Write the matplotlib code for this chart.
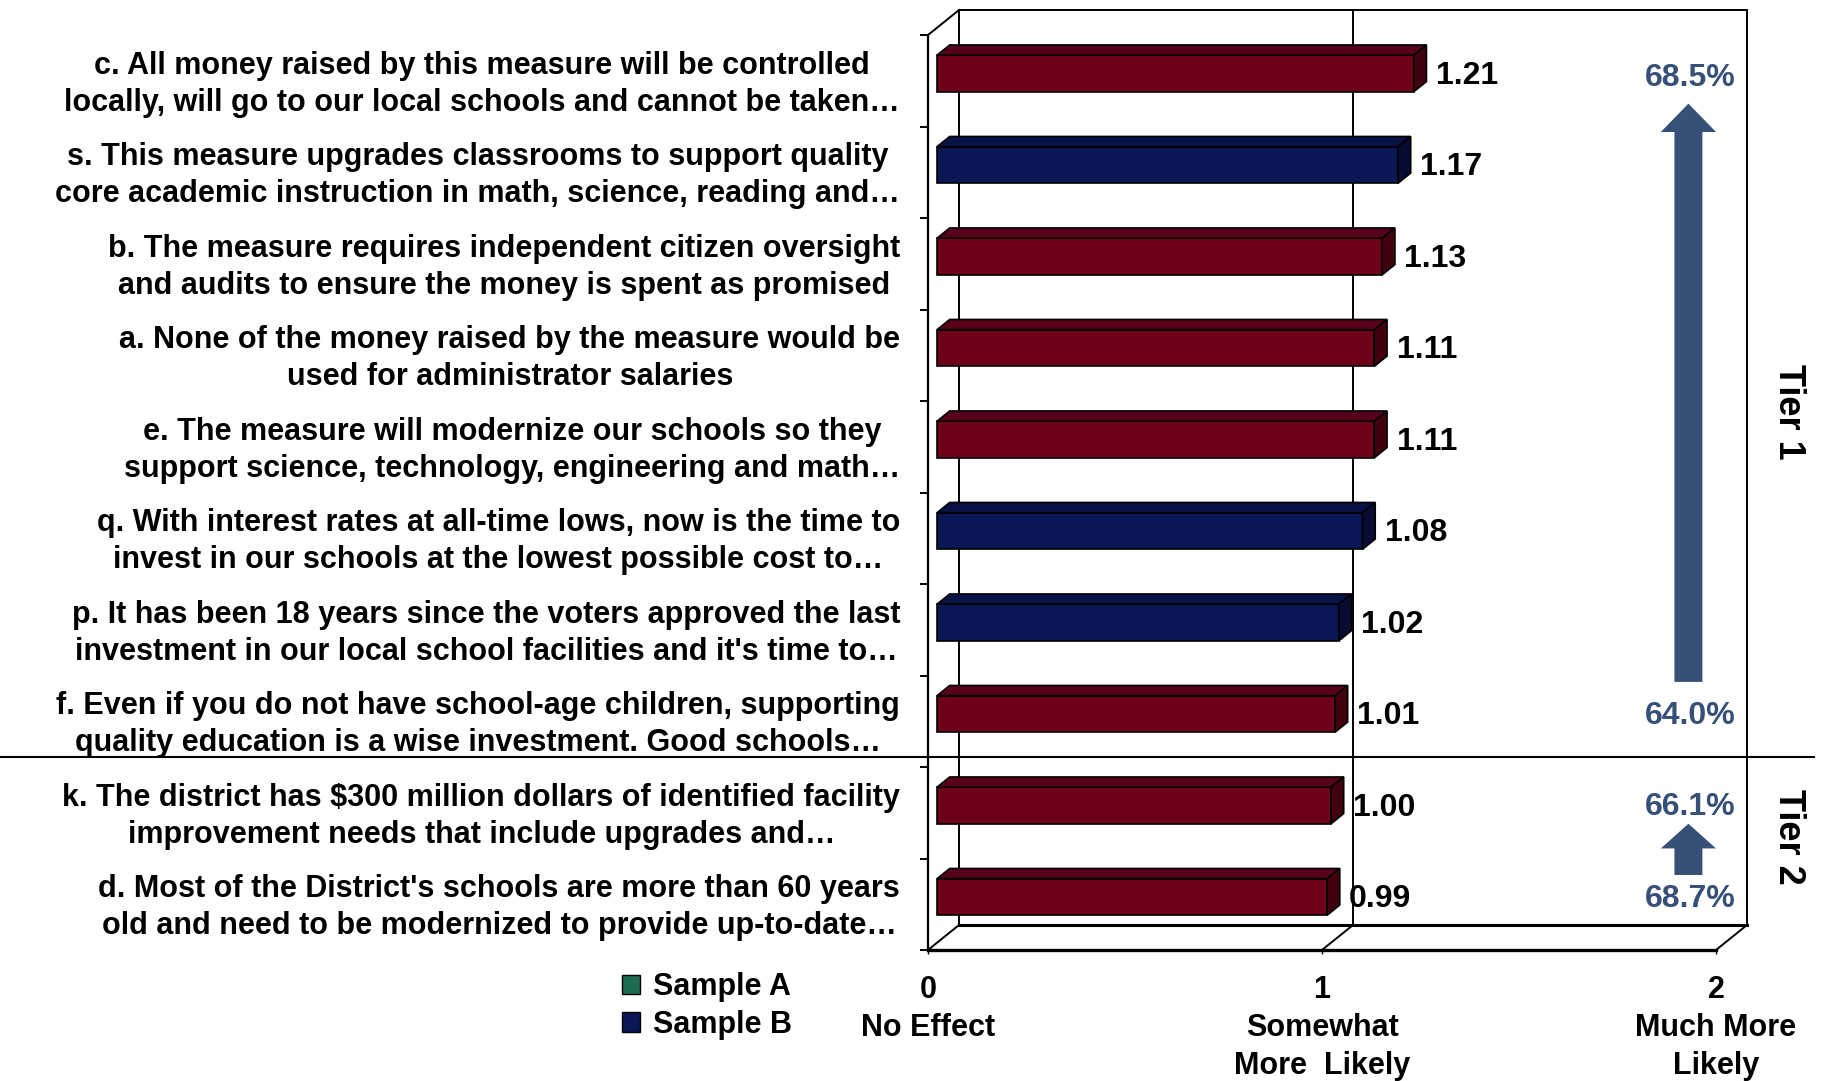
import matplotlib
matplotlib.use('Agg')
import matplotlib.pyplot as plt
import matplotlib.transforms as mtransforms
from matplotlib.patches import Polygon, Patch, FancyArrow
from matplotlib.lines import Line2D
import numpy as np

plt.rcParams['font.family'] = ['Liberation Sans', 'DejaVu Sans']
plt.rcParams['font.weight'] = 'bold'

# data (top to bottom)
statements = [
    "c. All money raised by this measure will be controlled\nlocally, will go to our local schools and cannot be taken\u2026",
    "s. This measure upgrades classrooms to support quality\ncore academic instruction in math, science, reading and\u2026",
    "b. The measure requires independent citizen oversight\nand audits to ensure the money is spent as promised",
    "a. None of the money raised by the measure would be\nused for administrator salaries",
    "e. The measure will modernize our schools so they\nsupport science, technology, engineering and math\u2026",
    "q. With interest rates at all-time lows, now is the time to\ninvest in our schools at the lowest possible cost to\u2026",
    "p. It has been 18 years since the voters approved the last\ninvestment in our local school facilities and it's time to\u2026",
    "f. Even if you do not have school-age children, supporting\nquality education is a wise investment. Good schools\u2026",
    "k. The district has \\$300 million dollars of identified facility\nimprovement needs that include upgrades and\u2026",
    "d. Most of the District's schools are more than 60 years\nold and need to be modernized to provide up-to-date\u2026",
]
values = [1.21, 1.17, 1.13, 1.11, 1.11, 1.08, 1.02, 1.01, 1.00, 0.99]
bar_sample = ['A', 'B', 'A', 'A', 'A', 'B', 'B', 'A', 'A', 'A']
tier1_pcts = ['68.5%', '64.0%']
tier2_pcts = ['66.1%', '68.7%']
n_tier2 = 2
xtick_vals = [0, 1, 2]
xtick_labels = ['0\nNo Effect', '1\nSomewhat\nMore  Likely', '2\nMuch More\nLikely']
legend_names = ['Sample A', 'Sample B']
legend_colors = ['#1e6b4f', '#0b1654']

bar_colors = {
    'A': ('#6e0019', '#56001a', '#42000f'),
    'B': ('#0b1654', '#091246', '#060c33'),
}
pct_color = '#375078'

fig = plt.figure(figsize=(18.26, 10.81), dpi=100)
ax = fig.add_axes([928 / 1826, 1 - 950 / 1081, 788 / 1826, 915 / 1081])
n = len(values)
ax.set_xlim(0, 2)
ax.set_ylim(0, n)

DX, DY = 0.0787, 0.273   # depth of the 3D box
F, B = 0.29, 0.41        # bar front offset and bar depth (fractions of box depth)
H = 0.40

# back walls / floor
kw = dict(color='black', lw=1.4, zorder=1, clip_on=False)
ax.plot([DX, 2 + DX], [n + DY, n + DY], **kw)
ax.plot([2 + DX, 2 + DX], [DY, n + DY], **kw)
ax.plot([DX, DX], [DY, n + DY], **kw)
ax.plot([1 + DX, 1 + DX], [DY, n + DY], **kw)
ax.plot([DX, 2 + DX], [DY, DY], color='black', lw=2.2, zorder=1, clip_on=False)
for x0, y0 in [(0, n), (0, 0), (1, 0), (2, 0)]:
    ax.plot([x0, x0 + DX], [y0, y0 + DY], **kw)

ypos = np.arange(n)[::-1] + 0.5
for y, v, s in zip(ypos, values, bar_sample):
    fc, tc, sc = bar_colors[s]
    x0 = F * DX
    yc = y + F * DY
    ax.barh(yc, v, left=x0, height=H, color=fc, edgecolor='black', lw=1.2, zorder=3)
    bx, by = B * DX, B * DY
    top = [(x0, yc + H / 2), (x0 + v, yc + H / 2), (x0 + v + bx, yc + H / 2 + by), (x0 + bx, yc + H / 2 + by)]
    side = [(x0 + v, yc - H / 2), (x0 + v + bx, yc - H / 2 + by), (x0 + v + bx, yc + H / 2 + by), (x0 + v, yc + H / 2)]
    ax.add_patch(Polygon(top, closed=True, fc=tc, ec='black', lw=1.2, zorder=3))
    ax.add_patch(Polygon(side, closed=True, fc=sc, ec='black', lw=1.2, zorder=3))
    ax.text(x0 + v + bx + 0.024, yc - 0.025, f'{v:.2f}', fontsize=23, fontweight='bold',
            ha='left', va='center', zorder=4)

# axes styling
for sp in ['top', 'right']:
    ax.spines[sp].set_visible(False)
ax.spines['left'].set_linewidth(1.6)
ax.spines['bottom'].set_linewidth(2.4)
ax.set_yticks(np.arange(n + 1))
ax.set_yticklabels([])
ax.set_yticks(ypos + 0.04, minor=True)
ax.set_yticklabels(statements, minor=True, fontsize=22, fontweight='bold')
for lbl in ax.get_yticklabels(minor=True):
    lbl.set_multialignment('center')
    lbl.set_linespacing(1.32)
ax.tick_params(axis='y', which='major', direction='out', length=6, width=1.4)
ax.tick_params(axis='y', which='minor', length=0, pad=20)
ax.set_xticks(xtick_vals)
ax.set_xticklabels(xtick_labels, fontsize=22, fontweight='bold', linespacing=1.35)
ax.tick_params(axis='x', direction='out', length=3, width=1, pad=15)

# tier separator
trans = mtransforms.blended_transform_factory(fig.transFigure, ax.transData)
ysep = n_tier2 + 0.4 * DY
fig.add_artist(Line2D([0, 1814 / 1826], [ysep, ysep], transform=trans, color='black', lw=1.5))

# tier arrows and percentages
xa = 1.93
t1_top, t1_bot = ypos[0], ypos[n - n_tier2 - 1]
t2_top, t2_bot = ypos[n - n_tier2], ypos[n - 1]
ax.add_patch(FancyArrow(xa, t1_bot + 0.43, 0, (t1_top - 0.25) - (t1_bot + 0.43), width=0.071,
                        head_width=0.14, head_length=0.31, length_includes_head=True,
                        color=pct_color, lw=0, clip_on=False, zorder=2))
ax.add_patch(FancyArrow(xa, t2_bot + 0.32, 0, (t2_top - 0.12) - (t2_bot + 0.32), width=0.071,
                        head_width=0.14, head_length=0.27, length_includes_head=True,
                        color=pct_color, lw=0, clip_on=False, zorder=2))
pct_kw = dict(fontsize=23, fontweight='bold', color=pct_color, ha='center', va='center', clip_on=False)
ax.text(1.935, t1_top + 0.03, tier1_pcts[0], **pct_kw)
ax.text(1.935, t1_bot + 0.06, tier1_pcts[1], **pct_kw)
ax.text(1.935, t2_top + 0.06, tier2_pcts[0], **pct_kw)
ax.text(1.935, t2_bot + 0.06, tier2_pcts[1], **pct_kw)
tier_kw = dict(fontsize=26, fontweight='bold', rotation=270, ha='center', va='center', clip_on=False)
ax.text(2.183, 5.88, 'Tier 1', **tier_kw)
ax.text(2.183, 1.24, 'Tier 2', **tier_kw)

# legend
handles = [Patch(facecolor=c, edgecolor='black', lw=1) for c in legend_colors]
fig.legend(handles, legend_names, loc='upper left', bbox_to_anchor=(622 / 1826, 1 - 972 / 1081),
           frameon=False, handlelength=0.6, handleheight=0.6, handletextpad=0.4,
           labelspacing=0.25, borderpad=0, borderaxespad=0, prop={'weight': 'bold', 'size': 22})

fig.savefig('out.png', dpi=100)
